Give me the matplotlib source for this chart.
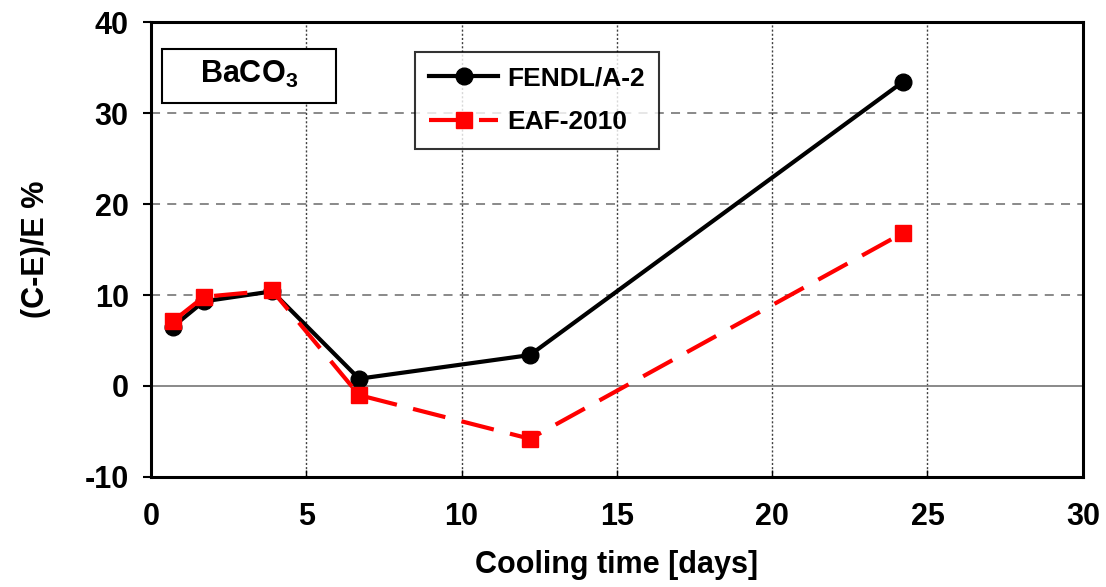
import matplotlib
matplotlib.use("Agg")
import matplotlib.pyplot as plt
from matplotlib.patches import Rectangle

plt.rcParams['font.family'] = ['Liberation Sans', 'DejaVu Sans']
plt.rcParams['font.weight'] = 'bold'
plt.rcParams['axes.unicode_minus'] = False
plt.rcParams['mathtext.fontset'] = 'custom'
plt.rcParams['mathtext.rm'] = 'Liberation Sans:bold'
plt.rcParams['mathtext.bf'] = 'Liberation Sans:bold'

# Cooling times [days] and (C-E)/E deviations [%]
cooling_days = [0.7, 1.7, 3.9, 6.7, 12.2, 24.2]
fendl_a2 = [6.5, 9.3, 10.4, 0.8, 3.4, 33.4]
eaf_2010 = [7.1, 9.8, 10.5, -1.0, -5.8, 16.8]

x_ticks = [0, 5, 10, 15, 20, 25, 30]
y_ticks = [-10, 0, 10, 20, 30, 40]

fig = plt.figure(figsize=(11.06, 5.87), dpi=100)
ax = fig.add_axes([0.1365, 0.1874, 0.8425, 0.7751])

ax.set_xlim(0, 30)
ax.set_ylim(-10, 40)

# Grid: dashed gray horizontals, dotted black verticals, solid zero line
for y in [10, 20, 30]:
    ax.axhline(y, color='#808080', lw=1.3, ls=(0, (5, 4)), zorder=1)
for x in [5, 10, 15, 20, 25]:
    ax.axvline(x, color='#404040', lw=1.0, ls=(0, (1.5, 1.5)), zorder=1)
ax.axhline(0, color='#808080', lw=1.3, zorder=1)

ax.plot(cooling_days, fendl_a2, color='black', lw=3, marker='o',
        markersize=12, zorder=3, label='FENDL/A-2')
ax.plot(cooling_days, eaf_2010, color='#ff0000', lw=3, marker='s',
        markersize=12, dashes=(8, 4), zorder=4, label='EAF-2010')

ax.set_xticks(x_ticks)
ax.set_yticks(y_ticks)
ax.tick_params(axis='x', direction='in', length=5, width=1, pad=18, labelsize=22)
ax.tick_params(axis='y', direction='out', length=6, width=1.5, pad=10, labelsize=22)
for lbl in ax.get_xticklabels() + ax.get_yticklabels():
    lbl.set_fontweight('bold')

for s in ax.spines.values():
    s.set_linewidth(2.2)
    s.set_color('black')

ax.set_xlabel('Cooling time [days]', fontsize=22, fontweight='bold', labelpad=13)
ax.set_ylabel('(C-E)/E %', fontsize=22, fontweight='bold', labelpad=24)

# Material label box
box_x0, box_x1 = 11 / 932, 185 / 932
box_y0, box_y1 = 1 - 81 / 455, 1 - 27 / 455
ax.add_patch(Rectangle((box_x0, box_y0), box_x1 - box_x0, box_y1 - box_y0,
                       transform=ax.transAxes, fc='white', ec='black', lw=1.5,
                       zorder=6))
ax.text((box_x0 + box_x1) / 2, (box_y0 + box_y1) / 2 + 0.003,
        r'BaCO$_\mathbf{3}$', fontsize=22, fontweight='bold',
        ha='center', va='center', transform=ax.transAxes, zorder=7)

leg = ax.legend(loc='upper left', bbox_to_anchor=(264 / 932, 1 - 30 / 455),
                fontsize=19, frameon=True, fancybox=False, edgecolor='black',
                handlelength=2.6, handletextpad=0.35, borderpad=0.55,
                labelspacing=0.75, borderaxespad=0)
leg.get_frame().set_linewidth(1.5)
leg.set_zorder(6)
for t in leg.get_texts():
    t.set_fontweight('bold')

fig.savefig('out.png', dpi=100, facecolor='white')
